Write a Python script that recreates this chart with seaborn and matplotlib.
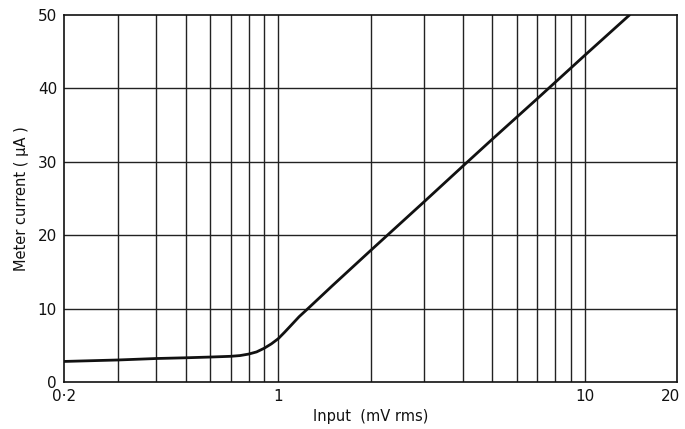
import matplotlib
matplotlib.use("Agg")
import matplotlib.pyplot as plt
import matplotlib.transforms as mtransforms
import seaborn as sns
import pandas as pd

sns.set_style("white")
plt.rcParams['font.family'] = ['DejaVu Sans']

# curve
input_mv = [0.2, 0.3, 0.4, 0.5, 0.6, 0.7, 0.75, 0.8, 0.85, 0.9, 0.95, 1.0, 1.05, 1.1, 1.17, 1.25,
            1.5, 2, 3, 4, 5, 7, 10, 14]
current_ua = [2.8, 3.0, 3.2, 3.3, 3.4, 3.5, 3.6, 3.8, 4.1, 4.6, 5.2, 5.9, 6.8, 7.7, 8.9, 10.0,
              13.1, 17.9, 24.6, 29.4, 33.1, 38.6, 44.5, 50.0]

grid_x = [0.3, 0.4, 0.5, 0.6, 0.7, 0.8, 0.9, 1, 2, 3, 4, 5, 6, 7, 8, 9, 10]
grid_y = [10, 20, 30, 40]
xticks = [0.2, 1, 10, 20]
xtick_labels = ['0·2', '1', '10', '20']
yticks = [0, 10, 20, 30, 40, 50]

df = pd.DataFrame({'input': input_mv, 'current': current_ua})

fig = plt.figure(figsize=(6.85, 4.29), dpi=100)
ax = fig.add_axes([64 / 685, 1 - 382 / 429, 613 / 685, 367 / 429])

# grid
for gx in grid_x:
    ax.axvline(gx, color='#222222', lw=1.0, zorder=1)
for gy in grid_y:
    ax.axhline(gy, color='#222222', lw=1.0, zorder=1)

sns.lineplot(data=df, x='input', y='current', ax=ax, color='#111111', lw=2.0, zorder=3)

ax.set_xscale('log')
ax.set_xlim(0.2, 20)
ax.set_ylim(0, 50)
ax.set_xticks(xticks)
ax.set_xticklabels(xtick_labels)
ax.xaxis.set_minor_locator(matplotlib.ticker.NullLocator())
ax.set_yticks(yticks)
ax.tick_params(axis='both', length=0, labelsize=11, colors='#111111', pad=5)

# keep the last label inside the picture
last = ax.get_xticklabels()[-1]
last.set_transform(last.get_transform() + mtransforms.ScaledTranslation(-6 / 100, 0, fig.dpi_scale_trans))

for s in ax.spines.values():
    s.set_color('#111111')
    s.set_linewidth(1.2)

ax.set_xlabel('Input  (mV rms)', fontsize=10.5, color='#111111', labelpad=4)
ax.set_ylabel('Meter current ( μA )', fontsize=10.5, color='#111111', labelpad=6)

fig.savefig('out.png', dpi=100)
